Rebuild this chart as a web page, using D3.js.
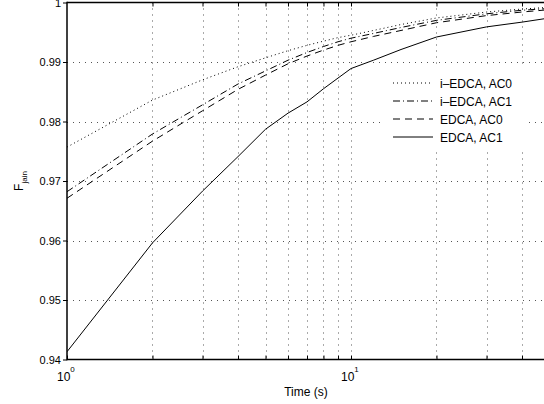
<!DOCTYPE html>
<html>
<head>
<meta charset="utf-8">
<script src="https://cdn.jsdelivr.net/npm/d3@7"></script>
<style>
  body { margin: 0; background: #fff; }
  text { font-family: "Liberation Sans", Arial, sans-serif; font-size: 11px; fill: #000; }
</style>
</head>
<body>
<script>
const w = 544;
const h = 404;

// data
const times = [1, 2, 3, 4, 5, 6, 7, 8, 9, 10, 12, 15, 20, 30, 40, 50];
const iEdcaAc0 = [0.9757, 0.9836, 0.9870, 0.9892, 0.9907, 0.9919, 0.9928, 0.9935, 0.9941, 0.9945, 0.9953, 0.9963, 0.9974, 0.9984, 0.9989, 0.9992];
const iEdcaAc1 = [0.9682, 0.9779, 0.9828, 0.9863, 0.9885, 0.9903, 0.9916, 0.9926, 0.9934, 0.9940, 0.9948, 0.9958, 0.9970, 0.9981, 0.9987, 0.9990];
const edcaAc0 = [0.9671, 0.9767, 0.9818, 0.9854, 0.9878, 0.9897, 0.9910, 0.9920, 0.9928, 0.9934, 0.9943, 0.9953, 0.9966, 0.9978, 0.9984, 0.9988];
const edcaAc1 = [0.9413, 0.9596, 0.9683, 0.9741, 0.9787, 0.9814, 0.9833, 0.9855, 0.9873, 0.9889, 0.9903, 0.9921, 0.9942, 0.9959, 0.9967, 0.9974];

const seriesNames = ["i\u2013EDCA, AC0", "i\u2013EDCA, AC1", "EDCA, AC0", "EDCA, AC1"];
const seriesValues = [iEdcaAc0, iEdcaAc1, edcaAc0, edcaAc1];
const seriesDash = ["1,3", "7,3,1,3", "7,5", null];

const yTicks = [0.94, 0.95, 0.96, 0.97, 0.98, 0.99, 1];
const yTickLabels = ["0.94", "0.95", "0.96", "0.97", "0.98", "0.99", "1"];
const xMajor = [1, 10];
const xMajorExp = ["0", "1"];
const xGrid = [2, 3, 4, 5, 6, 7, 8, 9, 10, 20, 30, 40];

const padLeft = 67, padTop = 2.5, padBottom = 359.5;
const decade = 284;

const xScale = d3.scaleLog()
                 .domain([1, 50])
                 .range([padLeft, padLeft + decade * Math.log10(50)]);

const yScale = d3.scaleLinear()
                 .domain([0.94, 1])
                 .range([padBottom, padTop]);

const svg = d3.select("body")
              .append("svg")
              .attr("width", w)
              .attr("height", h);

svg.append("defs").append("clipPath")
   .attr("id", "plot")
   .append("rect")
   .attr("x", padLeft)
   .attr("y", padTop)
   .attr("width", xScale(50) - padLeft)
   .attr("height", padBottom - padTop);

// grid
svg.append("g")
   .selectAll("line")
   .data(xGrid)
   .enter()
   .append("line")
   .attr("x1", d => Math.round(xScale(d)) + 0.5)
   .attr("x2", d => Math.round(xScale(d)) + 0.5)
   .attr("y1", padTop)
   .attr("y2", padBottom)
   .attr("stroke", "#555")
   .attr("stroke-dasharray", "1,5");

svg.append("g")
   .selectAll("line")
   .data(yTicks.slice(1, -1))
   .enter()
   .append("line")
   .attr("x1", padLeft)
   .attr("x2", w)
   .attr("y1", d => Math.round(yScale(d)) + 0.5)
   .attr("y2", d => Math.round(yScale(d)) + 0.5)
   .attr("stroke", "#555")
   .attr("stroke-dasharray", "1,5");

// curves
const line = d3.line()
               .x((d, i) => xScale(times[i]))
               .y(d => yScale(d));

svg.append("g")
   .attr("clip-path", "url(#plot)")
   .selectAll("path")
   .data(seriesValues)
   .enter()
   .append("path")
   .attr("d", d => line(d))
   .attr("fill", "none")
   .attr("stroke", "#000")
   .attr("stroke-width", 1)
   .attr("stroke-dasharray", (d, i) => seriesDash[i]);

// axes
const yAxis = d3.axisLeft(yScale)
                .tickValues(yTicks)
                .tickFormat((d, i) => yTickLabels[i])
                .tickSize(4)
                .tickPadding(2);

const gy = svg.append("g")
              .attr("transform", "translate(" + padLeft + ",0)")
              .call(yAxis);
gy.select(".domain").remove();
gy.selectAll("text").style("font-size", "11px").style("font-family", "Liberation Sans, Arial, sans-serif");

const xAxisB = d3.axisBottom(xScale)
                 .tickValues(xGrid.concat([1]))
                 .tickFormat("")
                 .tickSizeInner(-4)
                 .tickSizeOuter(0);
const gxb = svg.append("g")
               .attr("transform", "translate(0," + padBottom + ")")
               .call(xAxisB);
gxb.select(".domain").remove();

const xAxisT = d3.axisTop(xScale)
                 .tickValues(xGrid)
                 .tickFormat("")
                 .tickSizeInner(-4)
                 .tickSizeOuter(0);
const gxt = svg.append("g")
               .attr("transform", "translate(0," + padTop + ")")
               .call(xAxisT);
gxt.select(".domain").remove();

// frame
svg.append("line").attr("x1", padLeft).attr("x2", w).attr("y1", padTop).attr("y2", padTop)
   .attr("stroke", "#000").attr("stroke-width", 1.5);
svg.append("line").attr("x1", padLeft).attr("x2", w).attr("y1", padBottom).attr("y2", padBottom)
   .attr("stroke", "#000").attr("stroke-width", 1.5);
svg.append("line").attr("x1", padLeft).attr("x2", padLeft).attr("y1", padTop - 0.75).attr("y2", padBottom + 0.75)
   .attr("stroke", "#000").attr("stroke-width", 1.5);

// x tick labels with exponents
const xl = svg.append("g")
              .selectAll("text")
              .data(xMajor)
              .enter()
              .append("text")
              .attr("x", d => xScale(d) - 10)
              .attr("y", 381)
              .style("font-size", "12px");
xl.append("tspan").text("10");
xl.append("tspan").attr("dy", -9).style("font-size", "8px").text((d, i) => xMajorExp[i]);

svg.append("text")
   .attr("x", 306)
   .attr("y", 396)
   .attr("text-anchor", "middle")
   .style("font-size", "12px")
   .text("Time (s)");

const yl = svg.append("text")
              .attr("transform", "translate(23," + ((padTop + padBottom) / 2) + ") rotate(-90)")
              .attr("text-anchor", "middle")
              .style("font-size", "12px");
yl.append("tspan").text("F");
yl.append("tspan").attr("dy", 4).style("font-size", "8px").text("jain");

// legend
const legend = svg.append("g");
legend.append("rect")
      .attr("x", 383)
      .attr("y", 66)
      .attr("width", 144)
      .attr("height", 82)
      .attr("fill", "#fff");

const rows = legend.selectAll("g.row")
                   .data(seriesNames)
                   .enter()
                   .append("g")
                   .attr("class", "row")
                   .attr("transform", (d, i) => "translate(0," + (83 + i * 18) + ")");
rows.append("line")
    .attr("x1", 393)
    .attr("x2", 433)
    .attr("stroke", "#000")
    .attr("stroke-width", 1)
    .attr("stroke-dasharray", (d, i) => seriesDash[i]);
rows.append("text")
    .attr("x", 440)
    .attr("y", 4.5)
    .style("font-size", "12px")
    .text(d => d);
</script>
</body>
</html>
